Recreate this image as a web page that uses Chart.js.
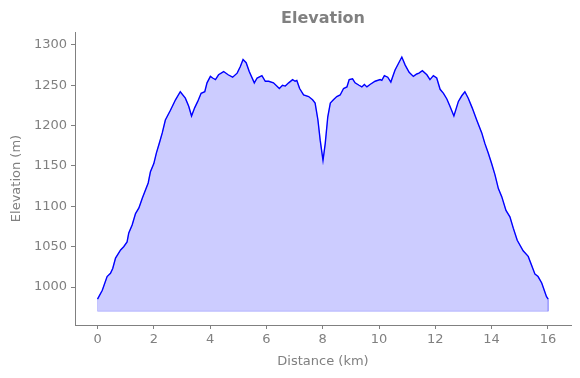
<!DOCTYPE html>
<html>
<head>
<meta charset="utf-8">
<script src="https://cdn.jsdelivr.net/npm/chart.js@4/dist/chart.umd.min.js"></script>
<style>
  html, body { margin: 0; padding: 0; background: #ffffff; }
  #wrap { width: 580px; height: 378px; }
</style>
</head>
<body>
<div id="wrap"><canvas id="c" width="580" height="378"></canvas></div>
<script>
// ---- Data ----
const distanceKm = [0.00,0.17,0.34,0.46,0.54,0.64,0.82,0.93,1.05,1.11,1.23,1.35,1.47,1.59,1.70,1.80,1.88,2.00,2.09,2.21,
  2.30,2.41,2.59,2.77,2.94,3.12,3.24,3.34,3.45,3.56,3.68,3.81,3.89,4.01,4.09,4.19,4.30,4.48,4.64,4.80,
  4.96,5.07,5.17,5.28,5.39,5.57,5.67,5.84,5.96,6.08,6.25,6.46,6.57,6.67,6.79,6.93,7.02,7.08,7.18,7.32,
  7.50,7.64,7.73,7.83,7.91,8.01,8.09,8.18,8.27,8.38,8.50,8.62,8.74,8.86,8.94,9.06,9.15,9.29,9.39,9.48,
  9.57,9.68,9.86,10.04,10.10,10.19,10.31,10.42,10.51,10.57,10.69,10.81,10.93,11.07,11.22,11.34,11.42,11.54,11.70,11.81,
  11.93,12.05,12.17,12.29,12.41,12.52,12.66,12.82,12.94,13.05,13.17,13.31,13.47,13.65,13.76,13.88,14.00,14.12,14.24,14.36,
  14.51,14.65,14.77,14.91,15.12,15.30,15.42,15.54,15.65,15.78,15.95,16.01];
const elevationM = [985,996,1013,1017,1023,1036,1046,1050,1056,1067,1077,1091,1098,1110,1120,1129,1143,1153,1166,1180,
  1191,1207,1219,1232,1242,1234,1224,1212,1222,1230,1240,1242,1253,1261,1259,1257,1263,1267,1263,1260,
  1265,1273,1282,1278,1267,1253,1259,1262,1255,1255,1253,1246,1250,1249,1253,1257,1255,1256,1246,1238,
  1236,1232,1228,1207,1182,1157,1178,1211,1228,1232,1236,1238,1246,1248,1257,1258,1253,1250,1248,1251,
  1248,1251,1255,1257,1256,1262,1260,1254,1263,1269,1277,1285,1275,1266,1261,1264,1265,1268,1263,1257,
  1262,1259,1245,1240,1233,1224,1212,1230,1237,1242,1234,1222,1207,1191,1178,1166,1153,1139,1122,1112,
  1095,1087,1073,1058,1045,1038,1027,1016,1013,1005,988,985];
const fillBaseM = 970;
const xTickValues = [0, 2, 4, 6, 8, 10, 12, 14, 16];
const yTickValues = [1000, 1050, 1100, 1150, 1200, 1250, 1300];
const xRange = [-0.8, 16.82];
const yRange = [953, 1316];
const chartTitle = 'Elevation';
const xTitle = 'Distance (km)';
const yTitle = 'Elevation (m)';

// ---- Build datasets from the arrays ----
const profile = distanceKm.map((d, i) => ({ x: d, y: elevationM[i] }));
const firstX = distanceKm[0];
const lastX = distanceKm[distanceKm.length - 1];
const areaPts = [{ x: firstX, y: fillBaseM }].concat(profile, [{ x: lastX, y: fillBaseM }]);
const basePts = [{ x: firstX, y: fillBaseM }, { x: lastX, y: fillBaseM }];

const GRAY = '#808080';
const FONT = 'DejaVu Sans';

const titlePlugin = {
  id: 'axesTitle',
  afterDraw(chart) {
    const { ctx, chartArea } = chart;
    ctx.save();
    ctx.font = 'bold 16px "' + FONT + '"';
    ctx.fillStyle = GRAY;
    ctx.textAlign = 'center';
    ctx.textBaseline = 'middle';
    ctx.fillText(chartTitle, (chartArea.left + chartArea.right) / 2, 19);
    ctx.restore();
  }
};

new Chart(document.getElementById('c'), {
  type: 'line',
  data: {
    datasets: [
      {
        data: profile,
        borderColor: '#0000ff',
        borderWidth: 1.4,
        pointRadius: 0,
        fill: false,
        tension: 0
      },
      {
        data: areaPts,
        borderColor: 'rgba(0,0,255,0.2)',
        borderWidth: 1,
        backgroundColor: 'rgba(0,0,255,0.2)',
        pointRadius: 0,
        fill: { value: fillBaseM },
        tension: 0
      },
      {
        data: basePts,
        borderColor: 'rgba(0,0,255,0.2)',
        borderWidth: 1,
        pointRadius: 0,
        fill: false
      }
    ]
  },
  options: {
    responsive: false,
    devicePixelRatio: 1,
    animation: false,
    layout: { padding: { left: 0, right: 9, top: 32, bottom: 0 } },
    plugins: {
      legend: { display: false },
      tooltip: { enabled: false },
      title: { display: false }
    },
    scales: {
      x: {
        type: 'linear',
        min: xRange[0],
        max: xRange[1],
        afterBuildTicks(scale) { scale.ticks = xTickValues.map(v => ({ value: v })); },
        afterFit(scale) { scale.height = 53; },
        grid: { display: true, drawOnChartArea: false, drawTicks: true, tickLength: 4, color: GRAY, lineWidth: 1 },
        border: { display: true, color: GRAY, width: 1 },
        ticks: { color: GRAY, font: { family: FONT, size: 13 }, padding: 3, maxRotation: 0, autoSkip: false,
                 callback: (v) => String(v) },
        title: { display: true, text: xTitle, color: GRAY, font: { family: FONT, size: 13 }, padding: { top: 0, bottom: 9 } }
      },
      y: {
        type: 'linear',
        min: yRange[0],
        max: yRange[1],
        afterBuildTicks(scale) { scale.ticks = yTickValues.map(v => ({ value: v })); },
        afterFit(scale) { scale.width = 75; },
        grid: { display: true, drawOnChartArea: false, drawTicks: true, tickLength: 4, color: GRAY, lineWidth: 1 },
        border: { display: true, color: GRAY, width: 1 },
        ticks: { color: GRAY, font: { family: FONT, size: 13 }, padding: 4, autoSkip: false,
                 callback: (v) => String(v) },
        title: { display: true, text: yTitle, color: GRAY, font: { family: FONT, size: 13 }, padding: { top: 9, bottom: 0 } }
      }
    }
  },
  plugins: [titlePlugin]
});
</script>
</body>
</html>
